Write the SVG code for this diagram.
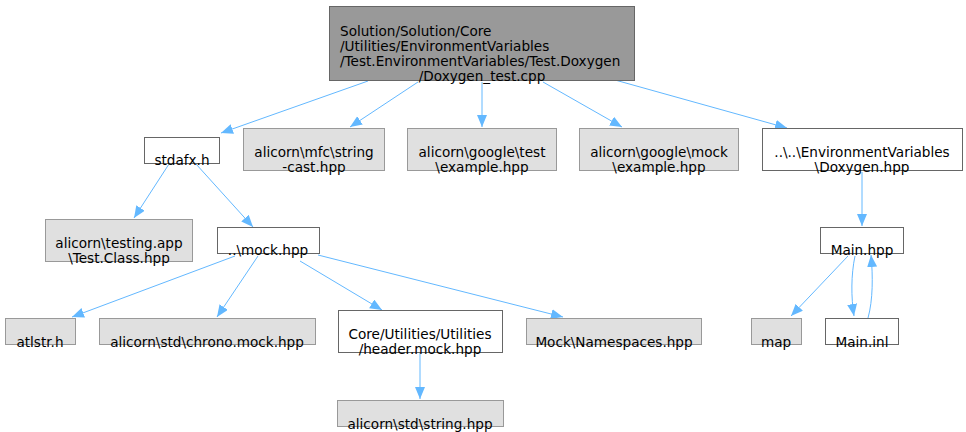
<svg xmlns="http://www.w3.org/2000/svg" width="966" height="432" viewBox="0 0 966 432">
<style>
text{font-family:"DejaVu Sans",sans-serif;font-size:13.6px;fill:#000;text-anchor:middle}
.w{fill:#fff;stroke:#666;stroke-width:1}
.g{fill:#e0e0e0;stroke:#999;stroke-width:1}
.m{fill:#999;stroke:#666;stroke-width:1}
.e{fill:none;stroke:#63b8ff;stroke-width:1;marker-end:url(#a)}
</style>
<defs>
<marker id="a" markerUnits="userSpaceOnUse" markerWidth="14" markerHeight="11" refX="12" refY="5" orient="auto">
<path d="M0,0 L12,5 L0,10 Z" fill="#63b8ff"/>
</marker>
</defs>
<rect width="966" height="432" fill="#fff"/>
<g id="edges">
<path class="e" d="M368,81 L221,133"/>
<path class="e" d="M418,82 L350,127"/>
<path class="e" d="M482,82 L482,127"/>
<path class="e" d="M543,82 L622,127"/>
<path class="e" d="M615,80 L787,128"/>
<path class="e" d="M169,164 L134,218"/>
<path class="e" d="M196,164 L253,227"/>
<path class="e" d="M235,256 L72,317"/>
<path class="e" d="M258,256 L217,317"/>
<path class="e" d="M300,261 L382,310"/>
<path class="e" d="M318,255 L563,317"/>
<path class="e" d="M420,353 L420,399"/>
<path class="e" d="M862,172 L862,226"/>
<path class="e" d="M848,256 L791,316"/>
<path class="e" d="M855,256 C851,275 851,297 854,316"/>
<path class="e" d="M868,318 C873,300 873,276 871,255"/>
</g>
<g id="n0"><rect class="m" x="329.5" y="6.5" width="305" height="74"/>
<text x="340" y="36" style="text-anchor:start">Solution/Solution/Core</text>
<text x="340" y="51" style="text-anchor:start">/Utilities/EnvironmentVariables</text>
<text x="340" y="66" style="text-anchor:start">/Test.EnvironmentVariables/Test.Doxygen</text>
<text x="482" y="81">/Doxygen_test.cpp</text></g>
<g id="n1"><rect class="w" x="144.5" y="137.5" width="75" height="26"/><text x="182" y="165">stdafx.h</text></g>
<g id="n2"><rect class="g" x="243.5" y="128.5" width="141" height="42"/><text x="314" y="157">alicorn\mfc\string</text><text x="314" y="172">-cast.hpp</text></g>
<g id="n3"><rect class="g" x="407.5" y="128.5" width="149" height="42"/><text x="482" y="157">alicorn\google\test</text><text x="482" y="172">\example.hpp</text></g>
<g id="n4"><rect class="g" x="579.5" y="128.5" width="159" height="42"/><text x="659" y="157">alicorn\google\mock</text><text x="659" y="172">\example.hpp</text></g>
<g id="n5"><rect class="w" x="762.5" y="128.5" width="200" height="42"/><text x="862" y="157">..\..\EnvironmentVariables</text><text x="862" y="172">\Doxygen.hpp</text></g>
<g id="n6"><rect class="g" x="45.5" y="219.5" width="147" height="42"/><text x="119" y="248">alicorn\testing.app</text><text x="119" y="263">\Test.Class.hpp</text></g>
<g id="n7"><rect class="w" x="217.5" y="227.5" width="102" height="26"/><text x="268" y="255">..\mock.hpp</text></g>
<g id="n8"><rect class="g" x="5.5" y="318.5" width="70" height="26"/><text x="40" y="347">atlstr.h</text></g>
<g id="n9"><rect class="g" x="99.5" y="318.5" width="216" height="26"/><text x="207" y="347">alicorn\std\chrono.mock.hpp</text></g>
<g id="n10"><rect class="w" x="338.5" y="310.5" width="164" height="42"/><text x="420" y="339">Core/Utilities/Utilities</text><text x="420" y="354">/header.mock.hpp</text></g>
<g id="n11"><rect class="g" x="526.5" y="318.5" width="175" height="26"/><text x="614" y="347">Mock\Namespaces.hpp</text></g>
<g id="n12"><rect class="g" x="337.5" y="400.5" width="166" height="26"/><text x="420" y="429">alicorn\std\string.hpp</text></g>
<g id="n13"><rect class="w" x="820.5" y="227.5" width="83" height="26"/><text x="862" y="255">Main.hpp</text></g>
<g id="n14"><rect class="g" x="751.5" y="318.5" width="50" height="26"/><text x="776" y="347">map</text></g>
<g id="n15"><rect class="w" x="825.5" y="318.5" width="73" height="26"/><text x="862" y="347">Main.inl</text></g>
</svg>
